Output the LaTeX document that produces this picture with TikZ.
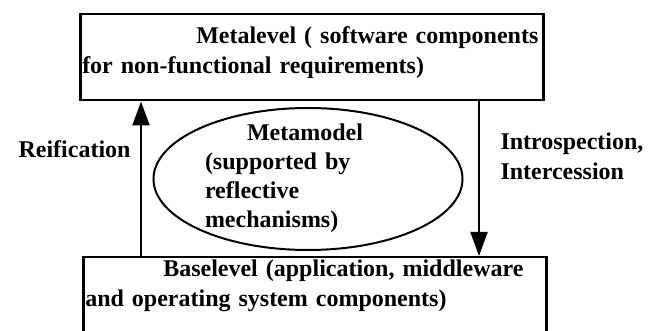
\documentclass[tikz,border=0pt]{standalone}
\usepackage{fontspec}
\setmainfont{Liberation Serif}
\usepackage{tikz}
\usetikzlibrary{arrows.meta, shapes.geometric}

\begin{document}
\begin{tikzpicture}[
  x=1pt, y=-1pt,
  % Everything is bold serif; the two level boxes share one frame.
  every node/.style={font=\fontsize{24}{30}\selectfont\bfseries},
  levelbox/.style={draw, line width=2.5pt, rectangle, anchor=north west,
                   inner xsep=2pt, inner ysep=0pt, align=left,
                   text width=459pt},
  modelshape/.style={draw, ellipse, line width=2pt, inner sep=0pt,
                     minimum width=309pt, minimum height=142pt,
                     align=left, text width=206pt},
  flow/.style={-{Triangle[length=24pt, width=17pt]}, line width=2pt},
  sidelabel/.style={anchor=base west, align=left}
]

\clip (0,0) rectangle (654,331);

% --- Metalevel (top) ---
\node[levelbox, text height=29pt, text depth=57pt] (meta) at (79,13)
  {\hspace*{114pt}Metalevel ( software components\\for non-functional requirements)};

% --- Baselevel (bottom, runs off the page) ---
\node[levelbox, text height=19pt, text depth=81pt] (base) at (82,256)
  {\hspace*{78pt}Baselevel (application, middleware\\and operating system components)};

% --- Metamodel ---
\node[modelshape, text height=8pt, text depth=84pt] (mmodel) at (308,179)
  {\hspace*{42pt}Metamodel\\[-1pt](supported by\\[-1pt]reflective\\[-1pt]mechanisms)};

% --- Arrows between the levels ---
\draw[flow] ([xshift=59pt]base.north west) -- ([xshift=62pt]meta.south west);
\draw[flow] ([xshift=400pt]meta.south west) -- ([xshift=397pt]base.north west);

% --- Arrow labels (base is the last line) ---
\node[sidelabel] (reif) at (15,158) {Reification};
\node[sidelabel] (intro) at (497,180) {Introspection,\\Intercession};

\end{tikzpicture}
\end{document}
